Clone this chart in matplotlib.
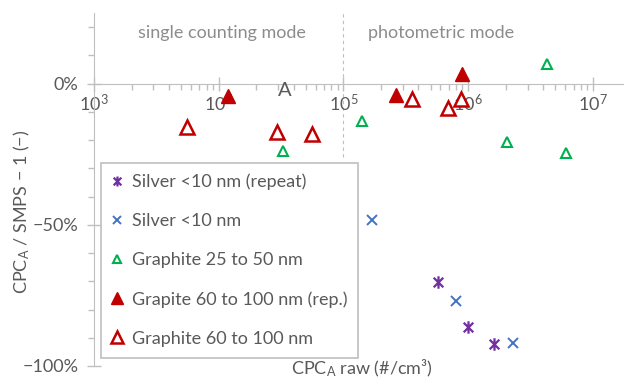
import numpy as np
import matplotlib.pyplot as plt
from matplotlib.path import Path
from matplotlib.ticker import LogLocator, NullFormatter

plt.rcParams.update({
    'font.family': ['Lato', 'DejaVu Sans'],
    'mathtext.fontset': 'custom',
    'mathtext.rm': 'Lato',
    'mathtext.it': 'Lato:italic',
    'axes.unicode_minus': True,
})

# CPC_A raw counts (#/cm3) and relative deviation CPC_A / SMPS - 1
silver_rep_x = [5.74e5, 9.98e5, 1.61e6]
silver_rep_y = [-0.703, -0.862, -0.922]

silver_x = [1.69e5, 8.0e5, 2.29e6]
silver_y = [-0.484, -0.77, -0.919]

graphite_25_x = [3.28e4, 1.41e5, 2.05e6, 4.30e6, 6.10e6]
graphite_25_y = [-0.24, -0.131, -0.208, 0.071, -0.247]

graphite_60_rep_x = [1.19e4, 2.64e5, 8.93e5]
graphite_60_rep_y = [-0.043, -0.039, 0.035]

graphite_60_x = [5.57e3, 2.94e4, 5.6e4, 3.55e5, 6.9e5, 8.77e5]
graphite_60_y = [-0.155, -0.17, -0.177, -0.053, -0.088, -0.053]

GREY_TXT = '#595959'
GREY_AX = '#bfbfbf'
FS = 13

# Excel style "star" marker: an x with a vertical bar through it
star = Path([(-1, -1), (1, 1), (-1, 1), (1, -1), (0, -1.3), (0, 1.3)],
            [Path.MOVETO, Path.LINETO, Path.MOVETO, Path.LINETO, Path.MOVETO, Path.LINETO])

fig = plt.figure(figsize=(6.24, 3.78), dpi=100)
ax = fig.add_axes([94 / 624, 12 / 378, 530 / 624, 353 / 378])

ax.plot(silver_rep_x, silver_rep_y, ls='none', marker=star, ms=9, mew=1.6,
        color='#7030a0', label='Silver <10 nm (repeat)')
ax.plot(silver_x, silver_y, ls='none', marker='x', ms=7, mew=1.4,
        color='#4472c4', label='Silver <10 nm')
ax.plot(graphite_25_x, graphite_25_y, ls='none', marker='^', ms=7, mew=1.5,
        mfc='white', mec='#00b050', label='Graphite 25 to 50 nm')
ax.plot(graphite_60_rep_x, graphite_60_rep_y, ls='none', marker='^', ms=10,
        color='#c00000', label='Grapite 60 to 100 nm (rep.)')
ax.plot(graphite_60_x, graphite_60_y, ls='none', marker='^', ms=10, mew=1.8,
        mfc='white', mec='#c00000', label='Graphite 60 to 100 nm')

# boundary between counting modes
ax.plot([1e5, 1e5], [-0.26, 0.25], ls=(0, (3, 3)), lw=0.8, color=GREY_AX, zorder=0)

ax.set_xscale('log')
ax.set_xlim(1e3, 10 ** 7.25)
ax.set_ylim(-1.0, 0.25)

for s in ['top', 'right']:
    ax.spines[s].set_visible(False)
ax.spines['bottom'].set_position(('data', 0))
ax.spines['bottom'].set_color(GREY_AX)
ax.spines['left'].set_color(GREY_AX)

ax.set_xticks([1e3, 1e4, 1e5, 1e6, 1e7])
ax.tick_params(axis='x', which='major', direction='inout', length=10, width=1,
               color=GREY_AX, labelcolor=GREY_TXT, labelsize=FS, pad=2)
ax.tick_params(axis='x', which='minor', direction='out', length=4, width=1, color=GREY_AX)
ax.xaxis.set_minor_locator(LogLocator(base=10, subs=np.arange(2, 10)))
ax.xaxis.set_minor_formatter(NullFormatter())

ax.set_yticks([0, -0.5, -1.0])
ax.set_yticklabels(['0%', '\u221250%', '\u2212100%'])
ax.set_yticks(np.arange(-1.0, 0.25, 0.1), minor=True)
ax.tick_params(axis='y', which='major', direction='inout', length=10, width=1,
               color=GREY_AX, labelcolor=GREY_TXT, labelsize=FS, pad=6)
ax.tick_params(axis='y', which='minor', direction='out', length=4, width=1, color=GREY_AX)

ax.text(1.07e4, 0.18, 'single counting mode', ha='center', va='center',
        color='#8c8c8c', fontsize=FS)
ax.text(6.1e5, 0.18, 'photometric mode', ha='center', va='center',
        color='#8c8c8c', fontsize=FS)
ax.text(3.4e4, -0.025, 'A', ha='center', va='center', color=GREY_TXT, fontsize=14.5)

fig.text(362 / 624, 1 - 368 / 378, 'CPC$_\\mathregular{A}$ raw (#/cm³)', ha='center',
         va='center', color=GREY_TXT, fontsize=FS)
fig.text(22 / 624, 1 - 212 / 378, 'CPC$_\\mathregular{A}$ / SMPS \u2212 1 (\u2212)',
         ha='center', va='center', rotation=90, color=GREY_TXT, fontsize=FS)

leg = ax.legend(loc='upper left', bbox_to_anchor=(101 / 624, 1 - 163 / 378),
                bbox_transform=fig.transFigure, borderaxespad=0, frameon=True,
                fancybox=False, framealpha=1, edgecolor=GREY_AX, fontsize=FS,
                labelspacing=1.27, handlelength=0.6, handletextpad=0.5,
                borderpad=0.6, markerscale=0.8)
leg.get_frame().set_linewidth(1.2)
for t in leg.get_texts():
    t.set_color(GREY_TXT)

fig.savefig('out.png', dpi=100)
